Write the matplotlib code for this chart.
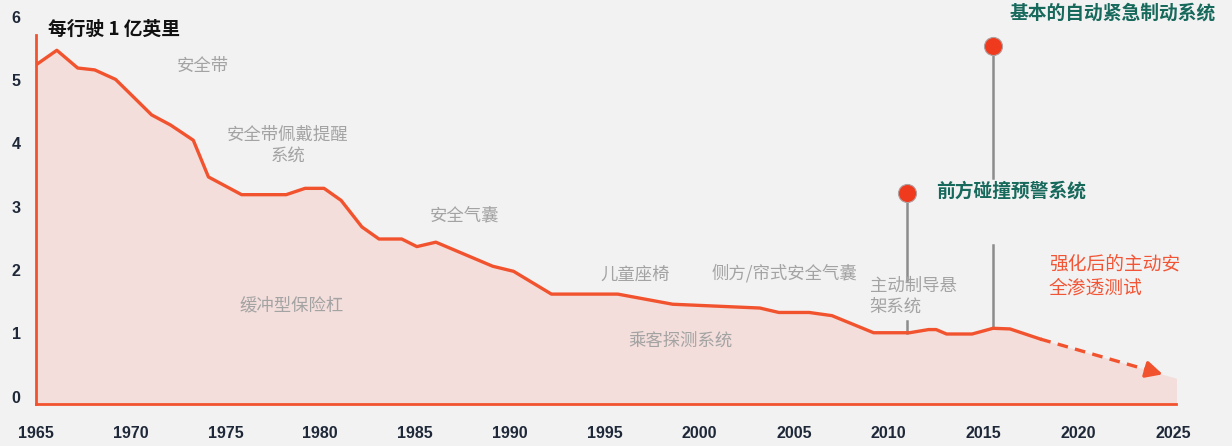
import matplotlib
matplotlib.use("Agg")
import matplotlib.pyplot as plt
import numpy as np

plt.rcParams["font.family"] = ["Noto Sans CJK SC", "DejaVu Sans"]

# observed fatality rate per 100M miles
years = [1965, 1966.1, 1967.2, 1968.1, 1969.2, 1970.05, 1971.1, 1972.1, 1973.3,
         1974.1, 1975.85, 1978.2, 1979.2, 1980.2, 1981.1, 1982.2, 1983.1, 1984.3,
         1985.1, 1986.1, 1989.1, 1990.2, 1992.2, 1995.7, 1998.6, 2003.2, 2004.2,
         2005.8, 2007.0, 2009.2, 2011.1, 2012.1, 2012.5, 2013.05, 2014.4, 2015.5,
         2016.4, 2018.0]
rate = [5.24, 5.47, 5.19, 5.16, 5.01, 4.76, 4.45, 4.29, 4.05,
        3.47, 3.19, 3.19, 3.29, 3.29, 3.10, 2.68, 2.49, 2.49,
        2.37, 2.44, 2.06, 1.98, 1.62, 1.62, 1.46, 1.40, 1.33,
        1.33, 1.28, 1.01, 1.01, 1.06, 1.06, 0.99, 0.99, 1.08,
        1.07, 0.91]

# projection
proj_years = [2018.0, 2025.2]
proj_rate = [0.91, 0.29]

xticks = [1965, 1970, 1975, 1980, 1985, 1990, 1995, 2000, 2005, 2010, 2015, 2020, 2025]
yticks = [0, 1, 2, 3, 4, 5, 6]

# gray feature labels: (text, year, value)
features = [
    ("安全带", 1973.8, 5.22),
    ("安全带佩戴提醒\n系统", 1978.3, 3.97),
    ("缓冲型保险杠", 1978.5, 1.44),
    ("安全气囊", 1987.6, 2.86),
    ("儿童座椅", 1996.6, 1.93),
    ("侧方/帘式安全气囊", 2004.5, 1.95),
    ("乘客探测系统", 1999.0, 0.89),
]

# highlighted systems: (text, year, marker value)
stems = [
    ("前方碰撞预警系统", 2010.95, 3.22),
    ("基本的自动紧急制动系统", 2015.5, 5.53),
]

RED = "#F2532F"
DOT = "#F03A1E"
TEAL = "#17695C"
GRAY = "#A3A3A3"
BG = "#F2F2F2"

fig = plt.figure(figsize=(12.32, 4.46), dpi=100, facecolor=BG)
ax = fig.add_axes([36 / 1232, 42 / 446, (1176 - 36) / 1232, (404 - 10) / 446])
ax.set_facecolor(BG)
ax.set_xlim(1965, 1965 + (1176 - 36) / 18.95)
ax.set_ylim((396.7 - 404) / 63.33, (396.7 - 10) / 63.33)
base = ax.get_ylim()[0]

all_years = years + proj_years[1:]
all_rate = rate + proj_rate[1:]
ax.fill_between(all_years, all_rate, base, color="#F3DEDB", lw=0, zorder=1)
ax.plot(years, rate, color=RED, lw=2.4, solid_joinstyle="round", zorder=3)

# dashed projection with a solid arrow head
tip_x = 2024.6
tip_y = np.interp(tip_x, proj_years, proj_rate)
start_x = 2023.9
start_y = np.interp(start_x, proj_years, proj_rate)
ax.plot([proj_years[0], start_x], [proj_rate[0], start_y], color=RED, lw=2.4,
        ls=(0, (3.2, 2.2)), zorder=3)
ax.annotate("", xy=(tip_x, tip_y), xytext=(start_x, start_y),
            arrowprops=dict(arrowstyle="-|>,head_length=1.0,head_width=0.5",
                            color=RED, lw=2.4),
            zorder=3)

# spines
for s in ["top", "right"]:
    ax.spines[s].set_visible(False)
ax.spines["left"].set_color(RED)
ax.spines["left"].set_linewidth(2)
ax.spines["left"].set_bounds(base, 5.71)
ax.spines["bottom"].set_color(RED)
ax.spines["bottom"].set_linewidth(2)

ax.set_xticks(xticks)
ax.set_xticklabels([str(x) for x in xticks])
ax.set_yticks(yticks)
ax.set_yticklabels([str(y) for y in yticks])
ax.tick_params(length=0, colors="#1E2838", labelsize=11.5)
ax.tick_params(axis="x", pad=16)
ax.tick_params(axis="y", pad=11)
for lab in ax.get_xticklabels() + ax.get_yticklabels():
    lab.set_family(["Liberation Sans", "DejaVu Sans"])
    lab.set_fontweight("bold")

# unit label
ax.text(1965.65, 5.8, "每行驶 1 亿英里", fontsize=13.5, fontweight="bold",
        color="#111111", va="center", ha="left")

for txt, x, y in features:
    ax.text(x, y, txt, fontsize=12.5, color=GRAY, ha="center", va="center",
            linespacing=1.2)

ax.text(2009.0, 1.58, "主动制导悬\n架系统", fontsize=12.5, color=GRAY,
        ha="left", va="center", linespacing=1.2)

# stems with markers
(t1, x1, v1), (t2, x2, v2) = stems
stem_kw = dict(color="#8C8C8C", lw=1.8, zorder=2)
ax.plot([x1, x1], [v1, 1.85], **stem_kw)
ax.plot([x1, x1], [1.19, 1.01], **stem_kw)
ax.plot([x2, x2], [v2, 3.45], **stem_kw)
ax.plot([x2, x2], [2.4, 1.08], **stem_kw)
ax.plot([x1, x2], [v1, v2], ls="none", marker="o", ms=13, color=DOT,
        mec="#B0A0A0", mew=0.8, zorder=4)

ax.text(2012.5, 3.24, t1, fontsize=13.5, fontweight="bold", color=TEAL,
        ha="left", va="center")
ax.text(2016.4, 6.06, t2, fontsize=13.5, fontweight="bold", color=TEAL,
        ha="left", va="center")

ax.text(2018.45, 1.9, "强化后的主动安\n全渗透测试", fontsize=13.5, color="#F25535",
        ha="left", va="center", linespacing=1.2)

fig.savefig("out.png", dpi=100, facecolor=BG)
